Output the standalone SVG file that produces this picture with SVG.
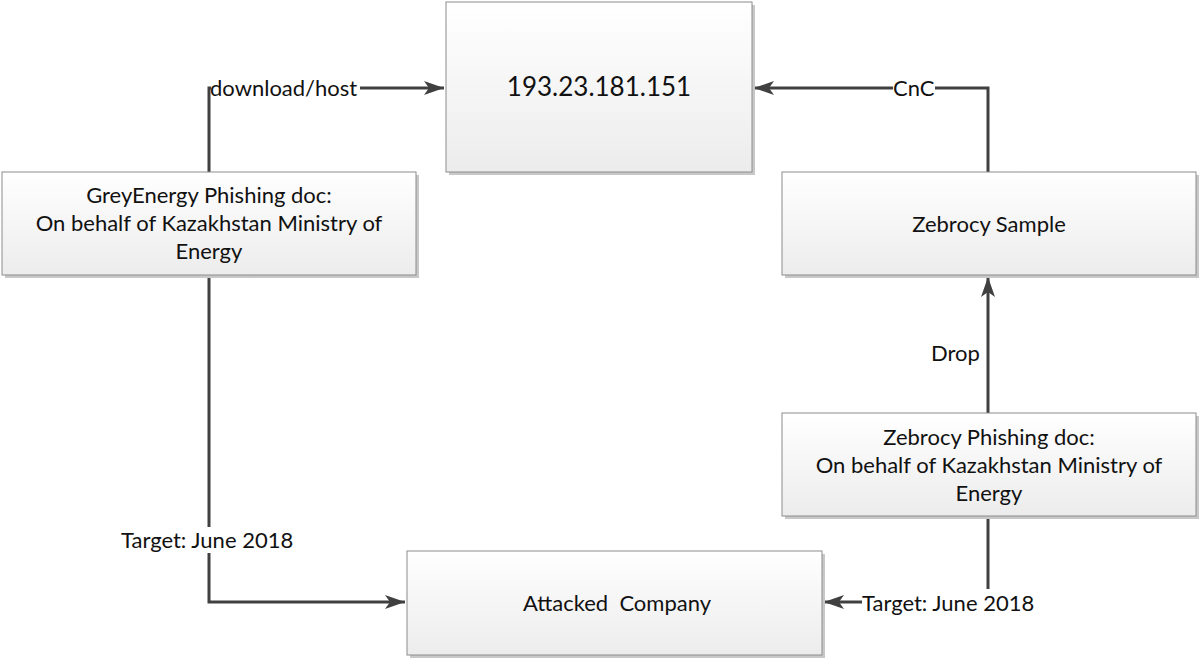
<svg xmlns="http://www.w3.org/2000/svg" width="1200" height="661" viewBox="0 0 1200 661">
<defs>
<linearGradient id="g" x1="0" y1="0" x2="0" y2="1">
<stop offset="0" stop-color="#ffffff"/>
<stop offset="1" stop-color="#ececec"/>
</linearGradient>
<marker id="a" viewBox="0 0 20 14" refX="20" refY="7" markerWidth="20" markerHeight="14" orient="auto" markerUnits="userSpaceOnUse">
<path d="M0,0 L20,7 L0,14 L5,7 z" fill="#404040"/>
</marker>
</defs>
<style>
.box{fill:url(#g);stroke:#8c8c8c;stroke-width:1}
.sh{fill:#c8c8c8}
.t{font-family:Lato,"Open Sans","Liberation Sans",sans-serif;font-size:22px;fill:#111;text-anchor:middle}
.lbl{font-family:Lato,"Open Sans","Liberation Sans",sans-serif;font-size:22px;fill:#111}
.c{fill:none;stroke:#404040;stroke-width:3}
.bg{fill:#ffffff}
</style>
<g id="connectors">
<path class="c" d="M209,172 V88 H444" marker-end="url(#a)"/>
<path class="c" d="M988,172 V88 H754" marker-end="url(#a)"/>
<path class="c" d="M988,413 V277" marker-end="url(#a)"/>
<path class="c" d="M209,275 V602 H405" marker-end="url(#a)"/>
<path class="c" d="M988,516 V602 H824" marker-end="url(#a)"/>
<rect class="bg" x="211" y="76" width="149" height="24"/>
<text class="lbl" x="210" y="96">download/host</text>
<rect class="bg" x="893" y="76" width="42" height="24"/>
<text class="lbl" x="893" y="96">CnC</text>
<rect class="bg" x="928" y="340" width="56" height="26"/>
<text class="lbl" x="931" y="361">Drop</text>
<rect class="bg" x="117" y="527" width="184" height="26"/>
<text class="lbl" x="121" y="548">Target: June 2018</text>
<rect class="bg" x="862" y="589" width="178" height="26"/>
<text class="lbl" x="862" y="611">Target: June 2018</text>
</g>
<g id="ip">
<rect class="sh" x="449" y="5" width="306" height="170"/>
<rect class="box" x="446" y="2" width="306" height="170"/>
<text class="t" x="599" y="96" style="font-size:26px">193.23.181.151</text>
</g>
<g id="greyenergy">
<rect class="sh" x="5" y="175" width="414" height="103"/>
<rect class="box" x="2" y="172" width="414" height="103"/>
<text class="t" x="209" y="203">GreyEnergy Phishing doc:</text>
<text class="t" x="209" y="231">On behalf of Kazakhstan Ministry of</text>
<text class="t" x="209" y="259">Energy</text>
</g>
<g id="zebrocy-sample">
<rect class="sh" x="785" y="175" width="414" height="103"/>
<rect class="box" x="782" y="172" width="414" height="103"/>
<text class="t" x="989" y="232">Zebrocy Sample</text>
</g>
<g id="zebrocy-phishing">
<rect class="sh" x="785" y="416" width="414" height="103"/>
<rect class="box" x="782" y="413" width="414" height="103"/>
<text class="t" x="989" y="445">Zebrocy Phishing doc:</text>
<text class="t" x="989" y="473">On behalf of Kazakhstan Ministry of</text>
<text class="t" x="989" y="501">Energy</text>
</g>
<g id="attacked">
<rect class="sh" x="410" y="554" width="415" height="104"/>
<rect class="box" x="407" y="551" width="415" height="104"/>
<text class="t" x="617" y="611">Attacked&#160; Company</text>
</g>
</svg>
